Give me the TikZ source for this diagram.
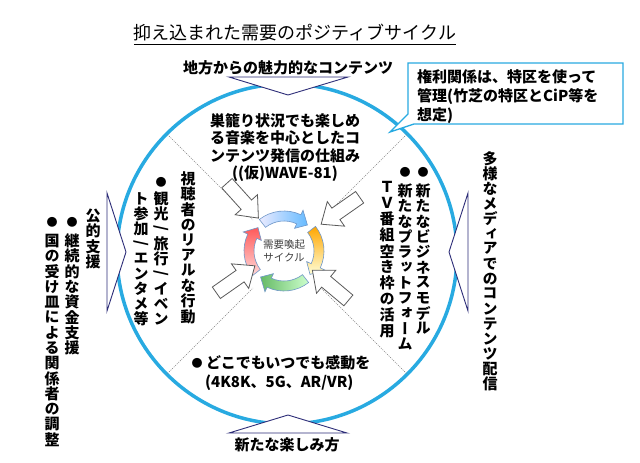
\documentclass[tikz,border=0pt]{standalone}
\usepackage{fontspec}
\setmainfont{Noto Sans CJK JP}
\newfontfamily\vfont[RawFeature=+vert]{Noto Sans CJK JP}
\usetikzlibrary{calc}
\definecolor{circblue}{RGB}{40,170,225}
\definecolor{navy}{RGB}{45,45,120}
\definecolor{arrgray}{RGB}{90,90,90}
\definecolor{ringline}{RGB}{110,150,200}
\newcommand\vsl{\rotatebox{-90}{/}}
\def\vtend{\vtend}
\newcommand\vcol[2]{\vbox{\offinterlineskip\def\vpitch{#1}\vtloop#2\vtend}}
\def\vtloop#1{\ifx\vtend#1\else\hbox to 17pt{\hss\vbox to \vpitch{\vss\hbox{#1}\vss}\hss}\expandafter\vtloop\fi}
\newcommand\ringarrow[4]{%
  \path[#4] ($(RC)+(#1:40)$) arc[start angle=#1, end angle=#2, radius=40]
    -- ($(RC)+(#2:45)$) -- ($(RC)+(#3:35)$) -- ($(RC)+(#2:25)$) -- ($(RC)+(#2:30)$)
    arc[start angle=#2, end angle=#1, radius=30] -- cycle;}
\newcommand\blockarrow[3]{%
  \begin{scope}[shift={(#1,#2)}, rotate=#3]
    \draw[barrow] (-24,-7) -- (5,-7) -- (5,-15) -- (23,0) -- (5,15) -- (5,7) -- (-24,7) -- cycle;
  \end{scope}}
\begin{document}
\begin{tikzpicture}[x=1pt, y=1pt, yscale=-1,
  ht/.style={inner sep=0pt, font=\fontsize{15}{17.3}\selectfont\bfseries},
  vt/.style={inner sep=0pt, anchor=north, font=\vfont\bfseries\fontsize{15}{15}\selectfont},
  bul/.style={inner sep=0pt, font=\fontsize{11}{11}\selectfont},
  tri/.style={draw=navy, line width=0.9pt, fill=white},
  dotl/.style={draw=gray, line width=0.6pt, dash pattern=on 1pt off 1.2pt},
  barrow/.style={draw=arrgray, line width=0.8pt, fill=white, line join=miter},
  ringa/.style={draw=ringline, line width=0.6pt}]
\useasboundingbox (0,0) rectangle (640,463);
\fill[white] (0,0) rectangle (640,463);

% title
\node[inner sep=0pt, font=\fontsize{18}{20}\selectfont] (title) at (295,33) {抑え込まれた需要のポジティブサイクル};
\draw[line width=0.8pt] ([yshift=3pt]title.south west) -- ([yshift=3pt]title.south east);

% big circle
\coordinate (C) at (287,254);
\draw[circblue, line width=3.5pt] (C) circle[radius=170];

% dotted diagonals
\foreach \a/\n in {45/d1,135/d2,225/d3,315/d4}{
  \coordinate (\n o) at ($(C)+(\a:169)$);
  \coordinate (\n i) at ($(C)+(\a:48)$);
  \draw[dotl] (\n o) -- (\n i);
}

% triangles
\draw[tri] (229,77) -- (348,77) -- (288,95) -- cycle;
\draw[tri] (229,433) -- (347,433) -- (288,415) -- cycle;
\draw[tri] (107,193) -- (107,311) -- (126,252) -- cycle;
\draw[tri] (468,193) -- (468,311) -- (449,252) -- cycle;

% outside labels
\node[ht] (tin) at (288,68) {地方からの魅力的なコンテンツ};
\node[ht] (bin) at (287,445) {新たな楽しみ方};
\node[vt] (rin) at (490,151) {\vcol{15pt}{多様なメディアでのコンテンツ配信}};
\node[vt] (lin) at (93,208) {\vcol{15.3pt}{公的支援}};
\node[bul] (lb1) at (72,222) {●};
\node[vt] (lc1) at (72,233) {\vcol{15.3pt}{継続的な資金支援}};
\node[bul] (lb2) at (52,222) {●};
\node[vt] (lc2) at (52,233) {\vcol{15.3pt}{国の受け皿による関係者の調整}};

% callout
\draw[circblue, line width=1.3pt, fill=white, line join=miter]
  (408,63) -- (623,63) -- (623,124) -- (414,124) -- (390,132) -- (408,114) -- cycle;
\node[ht, anchor=north west, align=left, font=\fontsize{15}{19}\selectfont\bfseries] (call) at (417,69)
  {権利関係は、特区を使って\\管理(竹芝の特区とCiP等を\\想定)};

% text inside circle
\node[ht, align=center] (topt) at (285,147.5)
  {巣籠り状況でも楽しめ\\る音楽を中心としたコ\\ンテンツ発信の仕組み\\((仮)WAVE-81)};
\node[vt] (lt1) at (188,171) {\vcol{15.3pt}{視聴者のリアルな行動}};
\node[bul] (ib1) at (161,182) {●};
\node[vt] (lt2) at (161,191) {\vcol{15pt}{観光\vsl 旅行\vsl イベン}};
\node[vt] (lt3) at (141,191) {\vcol{15pt}{ト参加\vsl エンタメ等}};
\node[bul] (rb1) at (423,172) {●};
\node[vt] (rt1) at (423,183) {\vcol{15.3pt}{新たなビジネスモデル}};
\node[bul] (rb2) at (405,172) {●};
\node[vt] (rt2) at (405,183) {\vcol{15.3pt}{新たなプラットフォーム}};
\node[vt] (rt3) at (387,179) {\vcol{16pt}{ＴＶ番組空き枠の活用}};
\node[bul] (bb1) at (197,363) {●};
\node[ht, anchor=west] (bt1) at (206,363) {どこでもいつでも感動を};
\node[ht, anchor=west] (bt2) at (205,383) {(4K8K、5G、AR/VR)};

% central cycle
\coordinate (RC) at (284,251);
\ringarrow{232}{295}{312}{ringa, left color=blue!8, right color=blue!45!cyan!60}
\ringarrow{322}{385}{402}{ringa, top color=orange!70!yellow, bottom color=yellow!15}
\ringarrow{52}{115}{132}{ringa, right color=green!20, left color=green!55!black!60}
\ringarrow{142}{205}{222}{ringa, bottom color=red!15, top color=red!65}
\node[inner sep=0pt, align=center, text=black!75, font=\fontsize{10.5}{13}\selectfont] (cyc) at (284,251) {需要喚起\\サイクル};

% hollow arrows
\blockarrow{243}{201}{48}
\blockarrow{340}{211}{145}
\blockarrow{236}{279}{-35}
\blockarrow{330}{285}{220}
\end{tikzpicture}
\end{document}
